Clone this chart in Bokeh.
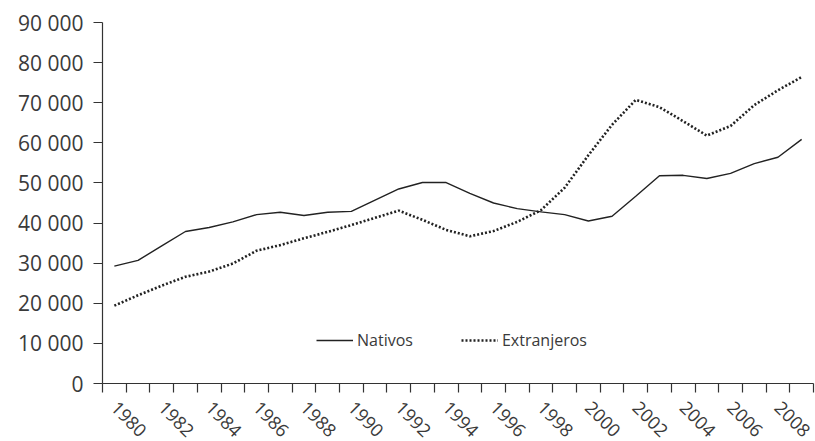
from bokeh.plotting import figure
from bokeh.models import FixedTicker, Legend
from bokeh.embed import file_html
from bokeh.resources import INLINE
import math

years = list(range(1980, 2010))
nativos = [29250, 30700, 34300, 37900, 38900, 40300, 42100, 42700, 41900, 42700,
           42900, 45700, 48500, 50100, 50100, 47400, 45000, 43600, 42800, 42100,
           40500, 41700, 46700, 51800, 51900, 51100, 52400, 54800, 56400, 60850]
extranjeros = [19400, 22000, 24400, 26600, 27900, 29900, 33100, 34500, 36200, 37800,
               39500, 41300, 43100, 40800, 38300, 36700, 38000, 40300, 43200, 48800,
               56900, 64500, 70700, 68900, 65400, 61800, 64200, 69400, 73100, 76400]
y_ticks = [0, 10000, 20000, 30000, 40000, 50000, 60000, 70000, 80000, 90000]
y_tick_labels = ["0", "10 000", "20 000", "30 000", "40 000", "50 000",
                 "60 000", "70 000", "80 000", "90 000"]
x_label_years = list(range(1980, 2009, 2))
series_names = ["Nativos", "Extranjeros"]

FONT = "Open Sans"
TXT = "#3a3a3a"

p = figure(width=815, height=455, output_backend="svg", toolbar_location=None,
           x_range=(years[0] - 0.5, years[-1] + 0.5), y_range=(0, 90000),
           min_border_left=102, min_border_right=2, min_border_top=22,
           min_border_bottom=72)
p.outline_line_color = None
p.xgrid.visible = False
p.ygrid.visible = False
p.background_fill_color = "white"
p.border_fill_color = "white"

r1 = p.line(years, nativos, line_color="#222222", line_width=1.4)
r2 = p.line(years, extranjeros, line_color="#222222", line_width=2.6,
            line_dash="2 2")

# x axis: ticks between categories (minor), labels at every other year
xa = p.xaxis[0]
xa.ticker = FixedTicker(ticks=x_label_years,
                        minor_ticks=[y - 0.5 for y in years] + [years[-1] + 0.5])
xa.major_tick_line_color = None
xa.major_tick_out = 9
xa.major_tick_in = 0
xa.minor_tick_out = 9
xa.minor_tick_in = 0
xa.minor_tick_line_color = "#333333"
xa.minor_tick_line_width = 1.2
xa.axis_line_color = "#333333"
xa.axis_line_width = 1.2
xa.major_label_orientation = -math.pi / 4
xa.major_label_text_font = FONT
xa.major_label_text_font_size = "18px"
xa.major_label_text_color = TXT
xa.major_label_standoff = 12

ya = p.yaxis[0]
ya.ticker = FixedTicker(ticks=y_ticks, minor_ticks=[])
ya.major_label_overrides = {t: s for t, s in zip(y_ticks, y_tick_labels)}
ya.major_tick_out = 9
ya.major_tick_in = 0
ya.major_tick_line_color = "#333333"
ya.major_tick_line_width = 1.2
ya.axis_line_color = "#333333"
ya.axis_line_width = 1.2
ya.major_label_text_font = FONT
ya.major_label_text_font_size = "21px"
ya.major_label_text_color = TXT
ya.major_label_standoff = 10

legend = Legend(items=[(series_names[0], [r1]), (series_names[1], [r2])],
                orientation="horizontal", location=(214, 32),
                border_line_color=None, background_fill_alpha=0,
                label_text_font=FONT, label_text_font_size="16px",
                label_text_color=TXT, glyph_width=37, glyph_height=20,
                label_standoff=4, spacing=48, padding=0, margin=0)
p.add_layout(legend, "center")

open("out.html", "w").write(file_html(p, INLINE))
